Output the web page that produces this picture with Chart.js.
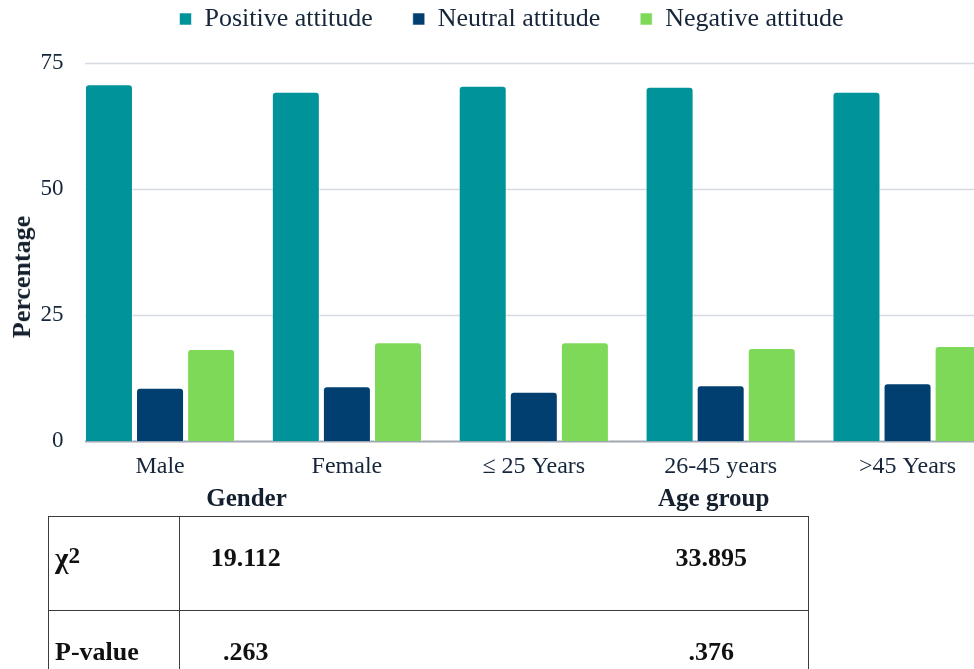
<!DOCTYPE html>
<html>
<head>
<meta charset="utf-8">
<script src="https://cdn.jsdelivr.net/npm/chart.js@4.4.1/dist/chart.umd.min.js"></script>
<style>
    html, body { margin: 0; padding: 0; width: 974px; height: 669px; overflow: hidden; background: #fff; }
    #wrap { position: relative; width: 974px; height: 669px; overflow: hidden; }
    #chart { position: absolute; left: 0; top: -34px; }
    #yTitle {
        position: absolute; left: 22px; top: 277px;
        transform: translate(-50%, -50%) rotate(-90deg);
        font: bold 26px "Liberation Serif", serif; color: #14202e; white-space: nowrap;
    }
    #stats {
        position: absolute; left: 48px; top: 516px; width: 760px;
        border-collapse: collapse; table-layout: fixed;
        font: bold 26px "Liberation Serif", serif; color: #111;
        border: 1.5px solid #3c3c3c;
    }
    #stats td { height: 94px; padding: 26px 0 0 0; line-height: 30px; vertical-align: top; box-sizing: border-box; border-bottom: 1.5px solid #3c3c3c; }
    #stats td.lab { padding-left: 6px; border-right: 1.5px solid #3c3c3c; }
    #stats td.val { text-align: center; }
    #stats .chi { font-size: 29px; }
    #stats sup { font-size: 0.8em; vertical-align: 0.22em; line-height: 0; }
</style>
</head>
<body>
<div id="wrap">
    <canvas id="chart" width="1001" height="600"></canvas>
    <div id="yTitle">Percentage</div>
    <table id="stats">
        <colgroup><col style="width:131px"><col style="width:132px"><col style="width:303px"><col style="width:194px"></colgroup>
        <tbody id="statsBody"></tbody>
    </table>
</div>
<script>
// --- DATA ---
const categories = ['Male', 'Female', '≤ 25 Years', '26-45 years', '>45 Years'];
const positive = [70.8, 69.3, 70.5, 70.3, 69.3];
const neutral = [10.6, 10.9, 9.8, 11.1, 11.5];
const negative = [18.3, 19.6, 19.6, 18.5, 18.9];
const seriesNames = ['Positive attitude', 'Neutral attitude', 'Negative attitude'];
const yTicks = [0, 25, 50, 75];

const groupNames = ['Gender', 'Age group'];
const groupMembers = [[0, 1], [2, 3, 4]];

const statLabels = ['<span class="chi">χ<sup>2</sup></span>', 'P-value'];
const genderStats = ['19.112', '.263'];
const ageStats = ['33.895', '.376'];

// --- CONFIG ---
const SERIES_COLORS = ['#00939a', '#003f70', '#7fd958'];
const TEXT_COLOR = '#16263a';
const FONT = '"Liberation Serif", "Times New Roman", serif';

Chart.defaults.font.family = FONT;
Chart.defaults.color = TEXT_COLOR;

// extra room under the legend
const legendGap = {
    id: 'legendGap',
    beforeInit(chart) {
        const fit = chart.legend.fit;
        chart.legend.fit = function () {
            fit.call(this);
            this.height += 21;
        };
    }
};

// gridlines start at the first bar, group captions under the ticks
const axisPainter = {
    id: 'axisPainter',
    beforeDatasetsDraw(chart) {
        const { ctx, chartArea, scales: { y } } = chart;
        const first = chart.getDatasetMeta(0).data[0];
        const x0 = first.x - first.width / 2;
        ctx.save();
        y.ticks.forEach(t => {
            const py = Math.round(y.getPixelForValue(t.value)) + 0.5;
            ctx.strokeStyle = t.value === 0 ? '#a0a8b1' : '#d6dbe1';
            ctx.lineWidth = t.value === 0 ? 2 : 1.3;
            ctx.beginPath();
            ctx.moveTo(x0, py);
            ctx.lineTo(chartArea.right, py);
            ctx.stroke();
        });
        ctx.restore();
    },
    afterDraw(chart) {
        const { ctx, scales: { x } } = chart;
        ctx.save();
        ctx.font = 'bold 25px ' + FONT;
        ctx.fillStyle = '#14202e';
        ctx.textAlign = 'center';
        ctx.textBaseline = 'middle';
        groupNames.forEach((name, i) => {
            const idx = groupMembers[i];
            const cx = idx.reduce((s, j) => s + x.getPixelForValue(j), 0) / idx.length;
            ctx.fillText(name, cx - 7, x.bottom + 8);
        });
        ctx.restore();
    }
};

const seriesValues = [positive, neutral, negative];

new Chart(document.getElementById('chart').getContext('2d'), {
    type: 'bar',
    data: {
        labels: categories,
        datasets: seriesNames.map((name, i) => ({
            label: name,
            data: seriesValues[i],
            backgroundColor: SERIES_COLORS[i],
            borderColor: 'rgba(255,255,255,0.55)',
            borderWidth: 1,
            borderRadius: 4,
            categoryPercentage: 0.82,
            barPercentage: 0.94
        }))
    },
    options: {
        responsive: false,
        animation: false,
        layout: { padding: { left: 22, right: 0, top: 0, bottom: 74 } },
        scales: {
            x: {
                grid: { display: false, drawTicks: false },
                border: { display: false },
                ticks: { color: TEXT_COLOR, font: { size: 24 }, padding: 11, maxRotation: 0, autoSkip: false }
            },
            y: {
                min: 0,
                max: 75,
                afterBuildTicks(scale) { scale.ticks = yTicks.map(v => ({ value: v })); },
                afterFit(scale) { scale.width = 44.6; },
                grid: { display: false, drawTicks: false },
                border: { display: false },
                ticks: { color: TEXT_COLOR, font: { size: 23 }, padding: 3 }
            }
        },
        plugins: {
            legend: {
                position: 'top',
                labels: {
                    boxWidth: 12,
                    boxHeight: 12,
                    padding: 40,
                    color: TEXT_COLOR,
                    font: { size: 26 }
                }
            },
            tooltip: { enabled: false }
        }
    },
    plugins: [legendGap, axisPainter]
});

// Stats table
const body = document.getElementById('statsBody');
statLabels.forEach((lab, i) => {
    const tr = document.createElement('tr');
    tr.innerHTML = `
        <td class="lab">${lab}</td>
        <td class="val">${genderStats[i]}</td>
        <td></td>
        <td class="val">${ageStats[i]}</td>
    `;
    body.appendChild(tr);
});
</script>
</body>
</html>
